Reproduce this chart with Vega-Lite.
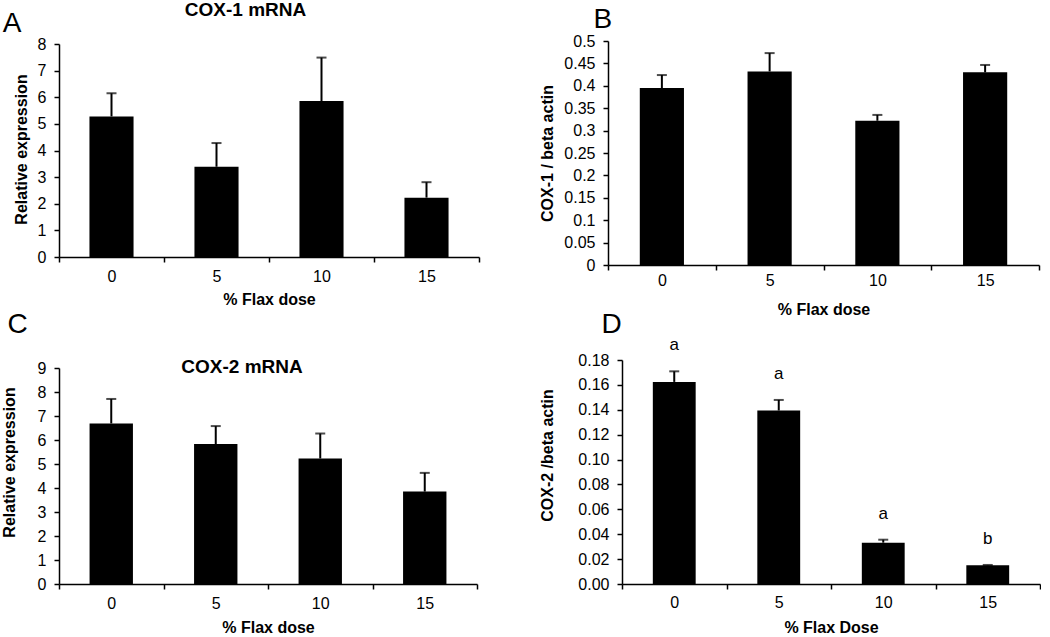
{
  "$schema": "https://vega.github.io/schema/vega-lite/v6.json",
  "padding": 0,
  "background": "white",
  "config": {
    "view": {"stroke": null},
    "font": "Liberation Sans",
    "axis": {
      "grid": false,
      "domainColor": "black",
      "tickColor": "black",
      "labelColor": "black",
      "titleColor": "black",
      "labelFont": "Liberation Sans",
      "titleFont": "Liberation Sans",
      "labelFontSize": 16,
      "titleFontSize": 16,
      "titleFontWeight": "bold",
      "domainWidth": 1.5,
      "tickWidth": 1.5,
      "tickSize": 5
    }
  },
  "columns": 2,
  "align": "none",
  "spacing": {"row": -7, "column": 58},
  "concat": [
    {
      "width": 420,
      "height": 216,
      "data": {"values": [
        {"dose": 0, "mean": 5.28, "upper": 6.15},
        {"dose": 5, "mean": 3.39, "upper": 4.28},
        {"dose": 10, "mean": 5.86, "upper": 7.49},
        {"dose": 15, "mean": 2.23, "upper": 2.81}
      ]},
      "resolve": {"axis": {"x": "independent", "y": "independent"}},
      "layer": [
        {
          "mark": {"type": "bar", "color": "black", "width": {"band": 0.42}},
          "encoding": {
            "x": {"field": "dose", "type": "ordinal", "scale": {"paddingInner": 0, "paddingOuter": 0},
              "axis": {"orient": "bottom", "title": "% Flax dose", "labelAngle": 0, "tickBand": "extent", "labelPadding": 6, "titleY": 47, "titleBaseline": "alphabetic"}},
            "y": {"field": "mean", "type": "quantitative", "scale": {"domain": [0, 8], "nice": false, "rangeMax": 3},
              "axis": {"orient": "left", "title": "Relative expression", "values": [0, 1, 2, 3, 4, 5, 6, 7, 8], "labelPadding": 8, "titleX": -30, "titleY": 108}}
          }
        },
        {
          "mark": {"type": "rule", "color": "black", "strokeWidth": 2},
          "encoding": {
            "x": {"field": "dose", "type": "ordinal",
              "axis": {"orient": "top", "title": "COX-1 mRNA", "domain": false, "ticks": false, "labels": false, "titleFontSize": 19, "titleX": 186, "titleY": -25.7, "titleAlign": "center", "titleBaseline": "alphabetic"}},
            "y": {"field": "mean", "type": "quantitative",
              "axis": {"orient": "left", "title": "A", "domain": false, "ticks": false, "labels": false, "titleAngle": 0, "titleFontSize": 28, "titleFontWeight": "normal", "titleX": -56.7, "titleY": -9.7, "titleAlign": "left", "titleBaseline": "alphabetic"}},
            "y2": {"field": "upper"}
          }
        },
        {
          "mark": {"type": "tick", "color": "black", "thickness": 2, "size": 10},
          "encoding": {
            "x": {"field": "dose", "type": "ordinal", "axis": null},
            "y": {"field": "upper", "type": "quantitative", "axis": null}
          }
        }
      ]
    },
    {
      "width": 431,
      "height": 224,
      "data": {"values": [
        {"dose": 0, "mean": 0.395, "upper": 0.424},
        {"dose": 5, "mean": 0.432, "upper": 0.473},
        {"dose": 10, "mean": 0.322, "upper": 0.335},
        {"dose": 15, "mean": 0.430, "upper": 0.4465}
      ]},
      "resolve": {"axis": {"x": "independent", "y": "independent"}},
      "layer": [
        {
          "mark": {"type": "bar", "color": "black", "width": {"band": 0.41}},
          "encoding": {
            "x": {"field": "dose", "type": "ordinal", "scale": {"paddingInner": 0, "paddingOuter": 0},
              "axis": {"orient": "bottom", "title": "% Flax dose", "labelAngle": 0, "tickBand": "extent", "labelPadding": 2, "titleY": 49, "titleBaseline": "alphabetic"}},
            "y": {"field": "mean", "type": "quantitative", "scale": {"domain": [0, 0.5], "nice": false},
              "axis": {"orient": "left", "title": "COX-1 / beta actin", "values": [0, 0.05, 0.1, 0.15, 0.2, 0.25, 0.3, 0.35, 0.4, 0.45, 0.5], "format": "~g", "labelPadding": 8, "titleX": -53}}
          }
        },
        {
          "mark": {"type": "rule", "color": "black", "strokeWidth": 2},
          "encoding": {
            "x": {"field": "dose", "type": "ordinal", "axis": null},
            "y": {"field": "mean", "type": "quantitative",
              "axis": {"orient": "left", "title": "B", "domain": false, "ticks": false, "labels": false, "titleAngle": 0, "titleFontSize": 28, "titleFontWeight": "normal", "titleX": -15, "titleY": -13.7, "titleAlign": "left", "titleBaseline": "alphabetic"}},
            "y2": {"field": "upper"}
          }
        },
        {
          "mark": {"type": "tick", "color": "black", "thickness": 2, "size": 10},
          "encoding": {
            "x": {"field": "dose", "type": "ordinal", "axis": null},
            "y": {"field": "upper", "type": "quantitative", "axis": null}
          }
        }
      ]
    },
    {
      "width": 418,
      "height": 216,
      "data": {"values": [
        {"dose": 0, "mean": 6.69, "upper": 7.71},
        {"dose": 5, "mean": 5.83, "upper": 6.58},
        {"dose": 10, "mean": 5.23, "upper": 6.27},
        {"dose": 15, "mean": 3.85, "upper": 4.63}
      ]},
      "resolve": {"axis": {"x": "independent", "y": "independent"}},
      "layer": [
        {
          "mark": {"type": "bar", "color": "black", "width": {"band": 0.415}},
          "encoding": {
            "x": {"field": "dose", "type": "ordinal", "scale": {"paddingInner": 0, "paddingOuter": 0},
              "axis": {"orient": "bottom", "title": "% Flax dose", "labelAngle": 0, "tickBand": "extent", "labelPadding": 6, "titleY": 48, "titleBaseline": "alphabetic"}},
            "y": {"field": "mean", "type": "quantitative", "scale": {"domain": [0, 9], "nice": false},
              "axis": {"orient": "left", "title": "Relative expression", "values": [0, 1, 2, 3, 4, 5, 6, 7, 8, 9], "labelPadding": 8, "titleX": -42, "titleY": 94}}
          }
        },
        {
          "mark": {"type": "rule", "color": "black", "strokeWidth": 2},
          "encoding": {
            "x": {"field": "dose", "type": "ordinal",
              "axis": {"orient": "top", "title": "COX-2 mRNA", "domain": false, "ticks": false, "labels": false, "titleFontSize": 19, "titleX": 182.5, "titleY": 4.3, "titleAlign": "center", "titleBaseline": "alphabetic"}},
            "y": {"field": "mean", "type": "quantitative",
              "axis": {"orient": "left", "title": "C", "domain": false, "ticks": false, "labels": false, "titleAngle": 0, "titleFontSize": 28, "titleFontWeight": "normal", "titleX": -52, "titleY": -36, "titleAlign": "left", "titleBaseline": "alphabetic"}},
            "y2": {"field": "upper"}
          }
        },
        {
          "mark": {"type": "tick", "color": "black", "thickness": 2, "size": 10},
          "encoding": {
            "x": {"field": "dose", "type": "ordinal", "axis": null},
            "y": {"field": "upper", "type": "quantitative", "axis": null}
          }
        }
      ]
    },
    {
      "width": 418,
      "height": 224,
      "data": {"values": [
        {"dose": 0, "mean": 0.1624, "upper": 0.1709, "group": "a"},
        {"dose": 5, "mean": 0.1394, "upper": 0.1479, "group": "a"},
        {"dose": 10, "mean": 0.0332, "upper": 0.0356, "group": "a"},
        {"dose": 15, "mean": 0.0150, "upper": 0.0153, "group": "b"}
      ]},
      "resolve": {"axis": {"x": "independent", "y": "independent"}},
      "layer": [
        {
          "mark": {"type": "bar", "color": "black", "width": {"band": 0.41}},
          "encoding": {
            "x": {"field": "dose", "type": "ordinal", "scale": {"paddingInner": 0, "paddingOuter": 0},
              "axis": {"orient": "bottom", "title": "% Flax Dose", "labelAngle": 0, "tickBand": "extent", "labelPadding": 5, "titleY": 48, "titleBaseline": "alphabetic"}},
            "y": {"field": "mean", "type": "quantitative", "scale": {"domain": [0, 0.18], "nice": false},
              "axis": {"orient": "left", "title": "COX-2 /beta actin", "values": [0, 0.02, 0.04, 0.06, 0.08, 0.1, 0.12, 0.14, 0.16, 0.18], "format": ".2f", "labelPadding": 8, "titleX": -67, "titleY": 95}}
          }
        },
        {
          "mark": {"type": "rule", "color": "black", "strokeWidth": 2},
          "encoding": {
            "x": {"field": "dose", "type": "ordinal", "axis": null},
            "y": {"field": "mean", "type": "quantitative",
              "axis": {"orient": "left", "title": "D", "domain": false, "ticks": false, "labels": false, "titleAngle": 0, "titleFontSize": 28, "titleFontWeight": "normal", "titleX": -21, "titleY": -28, "titleAlign": "left", "titleBaseline": "alphabetic"}},
            "y2": {"field": "upper"}
          }
        },
        {
          "mark": {"type": "tick", "color": "black", "thickness": 2, "size": 10},
          "encoding": {
            "x": {"field": "dose", "type": "ordinal", "axis": null},
            "y": {"field": "upper", "type": "quantitative", "axis": null}
          }
        },
        {
          "mark": {"type": "text", "color": "black", "fontSize": 17, "baseline": "alphabetic", "dy": -21},
          "encoding": {
            "x": {"field": "dose", "type": "ordinal", "axis": null},
            "y": {"field": "upper", "type": "quantitative", "axis": null},
            "text": {"field": "group"}
          }
        }
      ]
    }
  ]
}
